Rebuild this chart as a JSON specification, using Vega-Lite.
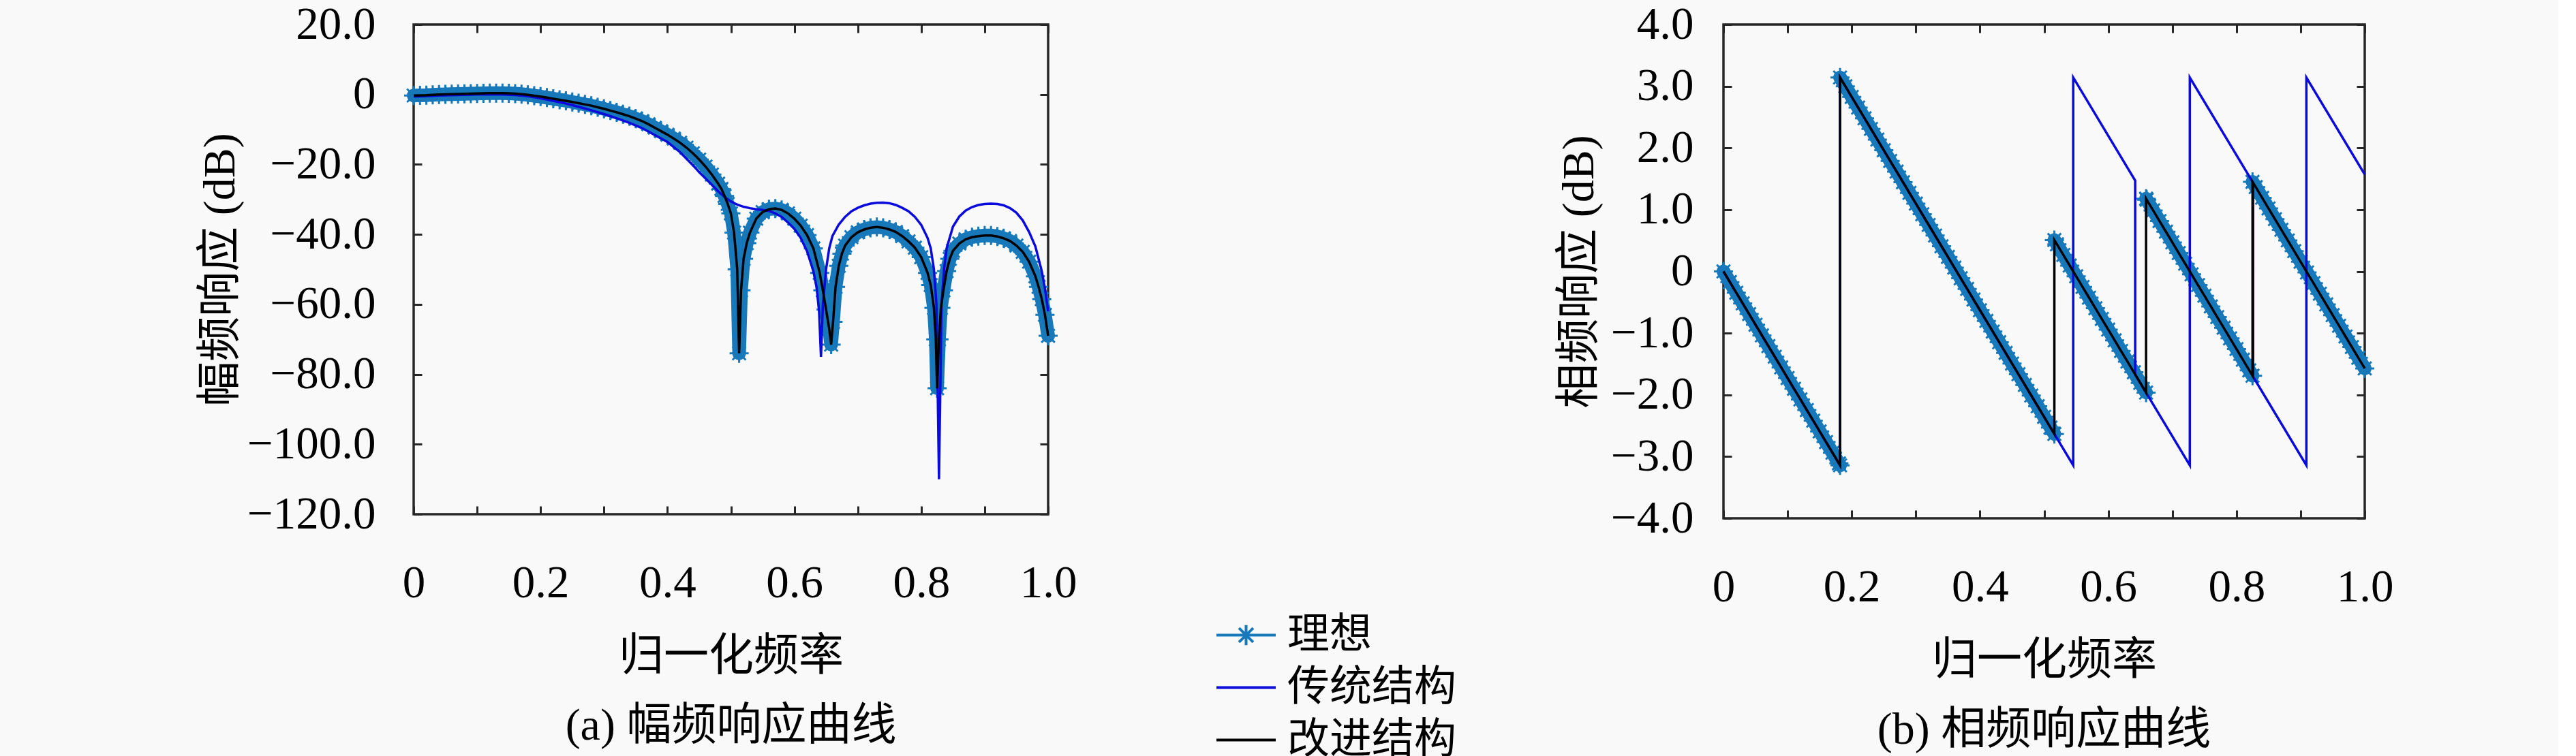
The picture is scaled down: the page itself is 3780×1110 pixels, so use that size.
{
"$schema": "https://vega.github.io/schema/vega-lite/v6.json",
"background": "#f9f9f9",
"autosize": {"type": "pad"},
"padding": {"left": 288, "top": 0, "right": 240, "bottom": 0},
"config": {
  "font": "'Liberation Serif', 'Noto Sans CJK SC'",
  "view": {"stroke": "#262626", "strokeWidth": 3.5},
  "axis": {"domain": false, "grid": false, "ticks": true, "tickColor": "#262626", "tickWidth": 3, "tickSize": -12,
    "labelFont": "'Liberation Serif'", "labelFontSize": 67, "labelColor": "#000", "labelFlush": false, "labelOverlap": false, "labelLimit": 0,
    "titleFont": "'Liberation Serif', 'Noto Sans CJK SC'", "titleFontSize": 66, "titleFontWeight": "normal", "titleColor": "#000", "titleLimit": 0},
  "title": {"font": "'Liberation Serif', 'Noto Sans CJK SC'", "fontSize": 66, "fontWeight": "normal", "color": "#000", "orient": "bottom", "anchor": "middle", "offset": 38}
},
"datasets": {
  "magI": [
    {"f":0,"v":-0.3},{"f":0.01,"v":-0.25},{"f":0.02,"v":-0.2},{"f":0.03,"v":-0.1},{"f":0.04,"v":0.0},{"f":0.05,"v":0.05},{"f":0.06,"v":0.1},{"f":0.07,"v":0.15},{"f":0.08,"v":0.2},{"f":0.09,"v":0.25},
    {"f":0.10,"v":0.3},{"f":0.11,"v":0.35},{"f":0.12,"v":0.4},{"f":0.13,"v":0.4},{"f":0.14,"v":0.4},{"f":0.15,"v":0.35},{"f":0.16,"v":0.25},{"f":0.17,"v":0.1},{"f":0.18,"v":-0.1},{"f":0.19,"v":-0.35},
    {"f":0.20,"v":-0.6},{"f":0.21,"v":-0.9},{"f":0.22,"v":-1.2},{"f":0.23,"v":-1.5},{"f":0.24,"v":-1.8},{"f":0.25,"v":-2.15},{"f":0.26,"v":-2.5},{"f":0.27,"v":-2.85},{"f":0.28,"v":-3.2},{"f":0.29,"v":-3.65},
    {"f":0.30,"v":-4.1},{"f":0.31,"v":-4.6},{"f":0.32,"v":-5.1},{"f":0.33,"v":-5.65},{"f":0.34,"v":-6.2},{"f":0.35,"v":-6.9},{"f":0.36,"v":-7.6},{"f":0.37,"v":-8.5},{"f":0.38,"v":-9.5},{"f":0.39,"v":-10.5},
    {"f":0.40,"v":-11.5},{"f":0.41,"v":-12.6},{"f":0.42,"v":-13.8},{"f":0.43,"v":-15.2},{"f":0.44,"v":-16.8},{"f":0.45,"v":-18.6},{"f":0.46,"v":-20.6},{"f":0.47,"v":-22.9},{"f":0.48,"v":-25.5},{"f":0.485,"v":-27.0},
    {"f":0.49,"v":-29.0},{"f":0.495,"v":-31.3},{"f":0.50,"v":-34.0},{"f":0.505,"v":-39.5},{"f":0.51,"v":-50},{"f":0.513,"v":-74},{"f":0.516,"v":-56},{"f":0.52,"v":-47},{"f":0.525,"v":-42.5},{"f":0.53,"v":-39.5},
    {"f":0.54,"v":-35.5},{"f":0.55,"v":-33.6},{"f":0.56,"v":-32.8},{"f":0.57,"v":-32.6},{"f":0.58,"v":-33.0},{"f":0.59,"v":-34.0},{"f":0.60,"v":-35.5},{"f":0.61,"v":-37.5},{"f":0.62,"v":-40.2},{"f":0.63,"v":-44.0},
    {"f":0.64,"v":-51},{"f":0.645,"v":-56},{"f":0.65,"v":-61.5},{"f":0.655,"v":-67},{"f":0.658,"v":-71.5},{"f":0.661,"v":-65},{"f":0.665,"v":-55},{"f":0.67,"v":-49},{"f":0.675,"v":-45.5},{"f":0.68,"v":-43.2},
    {"f":0.69,"v":-40.8},{"f":0.70,"v":-39.4},{"f":0.71,"v":-38.6},{"f":0.72,"v":-38.1},{"f":0.73,"v":-37.9},{"f":0.74,"v":-38.1},{"f":0.75,"v":-38.6},{"f":0.76,"v":-39.3},{"f":0.77,"v":-40.5},{"f":0.78,"v":-42.0},
    {"f":0.79,"v":-43.8},{"f":0.80,"v":-46.5},{"f":0.81,"v":-51},{"f":0.815,"v":-54.5},{"f":0.82,"v":-61},{"f":0.823,"v":-70},{"f":0.825,"v":-84},{"f":0.828,"v":-70},{"f":0.831,"v":-61},{"f":0.835,"v":-56},
    {"f":0.84,"v":-50.5},{"f":0.845,"v":-47},{"f":0.85,"v":-44.7},{"f":0.86,"v":-42.6},{"f":0.87,"v":-41.4},{"f":0.88,"v":-40.8},{"f":0.89,"v":-40.5},{"f":0.90,"v":-40.3},{"f":0.91,"v":-40.3},{"f":0.92,"v":-40.6},
    {"f":0.93,"v":-41.1},{"f":0.94,"v":-41.9},{"f":0.95,"v":-43.2},{"f":0.96,"v":-45.0},{"f":0.97,"v":-47.8},{"f":0.98,"v":-52},{"f":0.985,"v":-55},{"f":0.99,"v":-58.5},{"f":0.995,"v":-63},{"f":1.0,"v":-69}
  ],
  "magT": [
    {"f":0,"v":-0.6},{"f":0.02,"v":-0.5},{"f":0.04,"v":-0.3},{"f":0.06,"v":-0.2},{"f":0.08,"v":-0.1},{"f":0.10,"v":0.0},{"f":0.12,"v":0.05},{"f":0.14,"v":0.0},{"f":0.16,"v":-0.15},{"f":0.18,"v":-0.5},
    {"f":0.20,"v":-1.1},{"f":0.22,"v":-1.8},{"f":0.24,"v":-2.6},{"f":0.26,"v":-3.5},{"f":0.28,"v":-4.5},{"f":0.30,"v":-5.6},{"f":0.32,"v":-6.8},{"f":0.34,"v":-8.1},{"f":0.36,"v":-9.6},{"f":0.38,"v":-11.6},
    {"f":0.40,"v":-13.6},{"f":0.42,"v":-16.5},{"f":0.44,"v":-20.2},{"f":0.45,"v":-22.2},{"f":0.46,"v":-24.0},{"f":0.47,"v":-25.8},{"f":0.48,"v":-27.7},{"f":0.49,"v":-29.3},{"f":0.50,"v":-30.6},{"f":0.51,"v":-31.5},
    {"f":0.52,"v":-32.1},{"f":0.53,"v":-32.5},{"f":0.54,"v":-32.8},{"f":0.55,"v":-33.0},{"f":0.56,"v":-33.3},{"f":0.57,"v":-34.0},{"f":0.58,"v":-35.0},{"f":0.59,"v":-36.6},{"f":0.60,"v":-38.4},{"f":0.61,"v":-41.0},
    {"f":0.62,"v":-44.8},{"f":0.63,"v":-50.5},{"f":0.635,"v":-55},{"f":0.639,"v":-62},{"f":0.642,"v":-75},{"f":0.645,"v":-60},{"f":0.65,"v":-50},{"f":0.655,"v":-44},{"f":0.66,"v":-40.5},{"f":0.67,"v":-37.2},
    {"f":0.68,"v":-35.0},{"f":0.69,"v":-33.4},{"f":0.70,"v":-32.4},{"f":0.71,"v":-31.7},{"f":0.72,"v":-31.2},{"f":0.73,"v":-30.95},{"f":0.74,"v":-30.9},{"f":0.75,"v":-31.1},{"f":0.76,"v":-31.6},{"f":0.77,"v":-32.4},
    {"f":0.78,"v":-33.4},{"f":0.79,"v":-35.0},{"f":0.80,"v":-37.3},{"f":0.81,"v":-41.0},{"f":0.815,"v":-44},{"f":0.82,"v":-50},{"f":0.824,"v":-60},{"f":0.828,"v":-110},{"f":0.832,"v":-60},{"f":0.836,"v":-50},
    {"f":0.84,"v":-44},{"f":0.85,"v":-37.8},{"f":0.86,"v":-34.9},{"f":0.87,"v":-33.2},{"f":0.88,"v":-32.2},{"f":0.89,"v":-31.6},{"f":0.90,"v":-31.3},{"f":0.91,"v":-31.2},{"f":0.92,"v":-31.3},{"f":0.93,"v":-31.7},
    {"f":0.94,"v":-32.5},{"f":0.95,"v":-33.8},{"f":0.96,"v":-36.0},{"f":0.97,"v":-39.3},{"f":0.98,"v":-43.5},{"f":0.99,"v":-50.5},{"f":0.995,"v":-55.5},{"f":1.0,"v":-62}
  ],
  "phI": [
    {"f":0,"v":0,"s":1},{"f":0.01,"v":-0.173,"s":1},{"f":0.02,"v":-0.346,"s":1},{"f":0.03,"v":-0.518,"s":1},{"f":0.04,"v":-0.691,"s":1},{"f":0.05,"v":-0.864,"s":1},{"f":0.06,"v":-1.037,"s":1},{"f":0.07,"v":-1.21,"s":1},{"f":0.08,"v":-1.382,"s":1},{"f":0.09,"v":-1.555,"s":1},
    {"f":0.10,"v":-1.728,"s":1},{"f":0.11,"v":-1.901,"s":1},{"f":0.12,"v":-2.074,"s":1},{"f":0.13,"v":-2.246,"s":1},{"f":0.14,"v":-2.419,"s":1},{"f":0.15,"v":-2.592,"s":1},{"f":0.16,"v":-2.765,"s":1},{"f":0.17,"v":-2.938,"s":1},{"f":0.18,"v":-3.11,"s":1},{"f":0.1818,"v":-3.142,"s":1},
    {"f":0.1818,"v":3.142,"s":2},{"f":0.19,"v":3.0,"s":2},{"f":0.20,"v":2.827,"s":2},{"f":0.21,"v":2.654,"s":2},{"f":0.22,"v":2.481,"s":2},{"f":0.23,"v":2.309,"s":2},{"f":0.24,"v":2.136,"s":2},{"f":0.25,"v":1.963,"s":2},{"f":0.26,"v":1.79,"s":2},{"f":0.27,"v":1.617,"s":2},
    {"f":0.28,"v":1.445,"s":2},{"f":0.29,"v":1.272,"s":2},{"f":0.30,"v":1.099,"s":2},{"f":0.31,"v":0.926,"s":2},{"f":0.32,"v":0.753,"s":2},{"f":0.33,"v":0.581,"s":2},{"f":0.34,"v":0.408,"s":2},{"f":0.35,"v":0.235,"s":2},{"f":0.36,"v":0.062,"s":2},{"f":0.37,"v":-0.111,"s":2},
    {"f":0.38,"v":-0.283,"s":2},{"f":0.39,"v":-0.456,"s":2},{"f":0.40,"v":-0.629,"s":2},{"f":0.41,"v":-0.802,"s":2},{"f":0.42,"v":-0.975,"s":2},{"f":0.43,"v":-1.147,"s":2},{"f":0.44,"v":-1.32,"s":2},{"f":0.45,"v":-1.493,"s":2},{"f":0.46,"v":-1.666,"s":2},{"f":0.47,"v":-1.839,"s":2},
    {"f":0.48,"v":-2.011,"s":2},{"f":0.49,"v":-2.184,"s":2},{"f":0.50,"v":-2.357,"s":2},{"f":0.51,"v":-2.53,"s":2},{"f":0.516,"v":-2.634,"s":2},{"f":0.516,"v":0.508,"s":3},{"f":0.52,"v":0.439,"s":3},{"f":0.53,"v":0.267,"s":3},{"f":0.54,"v":0.094,"s":3},{"f":0.55,"v":-0.079,"s":3},
    {"f":0.56,"v":-0.252,"s":3},{"f":0.57,"v":-0.425,"s":3},{"f":0.58,"v":-0.597,"s":3},{"f":0.59,"v":-0.77,"s":3},{"f":0.60,"v":-0.943,"s":3},{"f":0.61,"v":-1.116,"s":3},{"f":0.62,"v":-1.289,"s":3},{"f":0.63,"v":-1.461,"s":3},{"f":0.64,"v":-1.634,"s":3},{"f":0.65,"v":-1.807,"s":3},
    {"f":0.659,"v":-1.963,"s":3},{"f":0.659,"v":1.179,"s":4},{"f":0.66,"v":1.161,"s":4},{"f":0.67,"v":0.988,"s":4},{"f":0.68,"v":0.816,"s":4},{"f":0.69,"v":0.643,"s":4},{"f":0.70,"v":0.47,"s":4},{"f":0.71,"v":0.297,"s":4},{"f":0.72,"v":0.124,"s":4},{"f":0.73,"v":-0.048,"s":4},
    {"f":0.74,"v":-0.221,"s":4},{"f":0.75,"v":-0.394,"s":4},{"f":0.76,"v":-0.567,"s":4},{"f":0.77,"v":-0.74,"s":4},{"f":0.78,"v":-0.912,"s":4},{"f":0.79,"v":-1.085,"s":4},{"f":0.80,"v":-1.258,"s":4},{"f":0.81,"v":-1.431,"s":4},{"f":0.82,"v":-1.604,"s":4},{"f":0.825,"v":-1.69,"s":4},
    {"f":0.825,"v":1.452,"s":5},{"f":0.83,"v":1.366,"s":5},{"f":0.84,"v":1.193,"s":5},{"f":0.85,"v":1.02,"s":5},{"f":0.86,"v":0.847,"s":5},{"f":0.87,"v":0.674,"s":5},{"f":0.88,"v":0.502,"s":5},{"f":0.89,"v":0.329,"s":5},{"f":0.90,"v":0.156,"s":5},{"f":0.91,"v":-0.017,"s":5},
    {"f":0.92,"v":-0.19,"s":5},{"f":0.93,"v":-0.362,"s":5},{"f":0.94,"v":-0.535,"s":5},{"f":0.95,"v":-0.708,"s":5},{"f":0.96,"v":-0.881,"s":5},{"f":0.97,"v":-1.054,"s":5},{"f":0.98,"v":-1.226,"s":5},{"f":0.99,"v":-1.399,"s":5},{"f":1.0,"v":-1.572,"s":5}
  ],
  "phT": [
    {"f":0,"v":0},{"f":0.1818,"v":-3.142},{"f":0.1818,"v":3.142},{"f":0.5454,"v":-3.142},{"f":0.5454,"v":3.142},{"f":0.642,"v":1.472},{"f":0.642,"v":-1.67},
    {"f":0.7272,"v":-3.142},{"f":0.7272,"v":3.142},{"f":0.826,"v":1.435},{"f":0.826,"v":-1.707},{"f":0.909,"v":-3.142},{"f":0.909,"v":3.142},{"f":1.0,"v":1.57}
  ]
},
"spacing": 700,
"hconcat": [
  {
    "width": 931, "height": 719,
    "title": {"text": "(a) 幅频响应曲线"},
    "resolve": {"axis": {"x": "independent", "y": "independent"}},
    "layer": [
      {
        "data": {"name": "magI"},
        "mark": {"type": "line", "strokeWidth": 20, "strokeJoin": "round", "strokeCap": "round", "point": {"shape": "M-1,0L1,0M0,-1L0,1M-0.7,-0.7L0.7,0.7M-0.7,0.7L0.7,-0.7", "filled": false, "size": 784, "strokeWidth": 3}},
        "encoding": {
          "x": {"field": "f", "type": "quantitative", "scale": {"domain": [0, 1], "nice": false},
            "axis": {"orient": "bottom", "values": [0,0.1,0.2,0.3,0.4,0.5,0.6,0.7,0.8,0.9,1.0], "labelExpr": "datum.value == 0 ? '0' : (round(datum.value*10) % 2 == 0 ? format(datum.value, '.1f') : '')", "labelPadding": 80, "title": "归一化频率", "titlePadding": 42}},
          "y": {"field": "v", "type": "quantitative", "scale": {"domain": [-120, 20], "nice": false},
            "axis": {"orient": "left", "values": [-120,-100,-80,-60,-40,-20,0,20], "labelExpr": "datum.value == 0 ? '0' : format(datum.value, '.1f')", "labelPadding": 68, "title": "幅频响应 (dB)", "titlePadding": 50}},
          "color": {"datum": "理想", "type": "nominal", "scale": {"domain": ["理想", "传统结构", "改进结构"], "range": ["#1778ba", "#0a0adc", "#000000"]},
            "legend": {"orient": "none", "legendX": 1176, "legendY": 851, "title": null, "padding": 0, "symbolType": "stroke", "symbolSize": 7569, "symbolStrokeWidth": 4,
              "labelFont": "'Noto Sans CJK SC'", "labelFontSize": 62, "labelColor": "#000", "labelOffset": 15, "labelLimit": 0, "rowPadding": -13,
              "encode": {"symbols": {"update": {"shape": {"signal": "datum.value === '理想' ? 'M-1,0L1,0M0,-0.34L0,0.34M-0.24,-0.24L0.24,0.24M-0.24,0.24L0.24,-0.24' : 'stroke'"}}}}}},
          "order": {"value": null}
        }
      },
      {
        "data": {"name": "magT"},
        "mark": {"type": "line", "strokeWidth": 3.5},
        "encoding": {
          "x": {"field": "f", "type": "quantitative", "axis": {"orient": "top", "values": [0,0.1,0.2,0.3,0.4,0.5,0.6,0.7,0.8,0.9,1.0], "labels": false, "title": null}},
          "y": {"field": "v", "type": "quantitative", "axis": {"orient": "right", "values": [-120,-100,-80,-60,-40,-20,0,20], "labels": false, "title": null}},
          "color": {"datum": "传统结构", "type": "nominal"},
          "order": {"value": null}
        }
      },
      {
        "data": {"name": "magI"},
        "mark": {"type": "line", "strokeWidth": 3.5},
        "encoding": {
          "x": {"field": "f", "type": "quantitative", "axis": null},
          "y": {"field": "v", "type": "quantitative", "axis": null},
          "color": {"datum": "改进结构", "type": "nominal"},
          "order": {"value": null}
        }
      }
    ]
  },
  {
    "width": 941, "height": 725,
    "title": {"text": "(b) 相频响应曲线"},
    "resolve": {"axis": {"x": "independent", "y": "independent"}},
    "layer": [
      {
        "data": {"name": "phI"},
        "mark": {"type": "line", "strokeWidth": 20, "strokeCap": "round", "color": "#1778ba", "point": {"shape": "M-1,0L1,0M0,-1L0,1M-0.7,-0.7L0.7,0.7M-0.7,0.7L0.7,-0.7", "filled": false, "size": 784, "strokeWidth": 3, "color": "#1778ba"}},
        "encoding": {
          "x": {"field": "f", "type": "quantitative", "scale": {"domain": [0, 1], "nice": false},
            "axis": {"orient": "bottom", "values": [0,0.1,0.2,0.3,0.4,0.5,0.6,0.7,0.8,0.9,1.0], "labelExpr": "datum.value == 0 ? '0' : (round(datum.value*10) % 2 == 0 ? format(datum.value, '.1f') : '')", "labelPadding": 80, "title": "归一化频率", "titlePadding": 42}},
          "y": {"field": "v", "type": "quantitative", "scale": {"domain": [-4, 4], "nice": false},
            "axis": {"orient": "left", "values": [-4,-3,-2,-1,0,1,2,3,4], "labelExpr": "datum.value == 0 ? '0' : format(datum.value, '.1f')", "labelPadding": 56, "title": "相频响应 (dB)", "titlePadding": 12}},
          "detail": {"field": "s", "type": "nominal"},
          "order": {"value": null}
        }
      },
      {
        "data": {"name": "phT"},
        "mark": {"type": "line", "strokeWidth": 3.5, "color": "#0a0adc"},
        "encoding": {
          "x": {"field": "f", "type": "quantitative", "axis": {"orient": "top", "values": [0,0.1,0.2,0.3,0.4,0.5,0.6,0.7,0.8,0.9,1.0], "labels": false, "title": null}},
          "y": {"field": "v", "type": "quantitative", "axis": {"orient": "right", "values": [-4,-3,-2,-1,0,1,2,3,4], "labels": false, "title": null}},
          "order": {"value": null}
        }
      },
      {
        "data": {"name": "phI"},
        "mark": {"type": "line", "strokeWidth": 3.5, "color": "#000000"},
        "encoding": {
          "x": {"field": "f", "type": "quantitative", "axis": null},
          "y": {"field": "v", "type": "quantitative", "axis": null},
          "order": {"value": null}
        }
      }
    ]
  }
]
}
